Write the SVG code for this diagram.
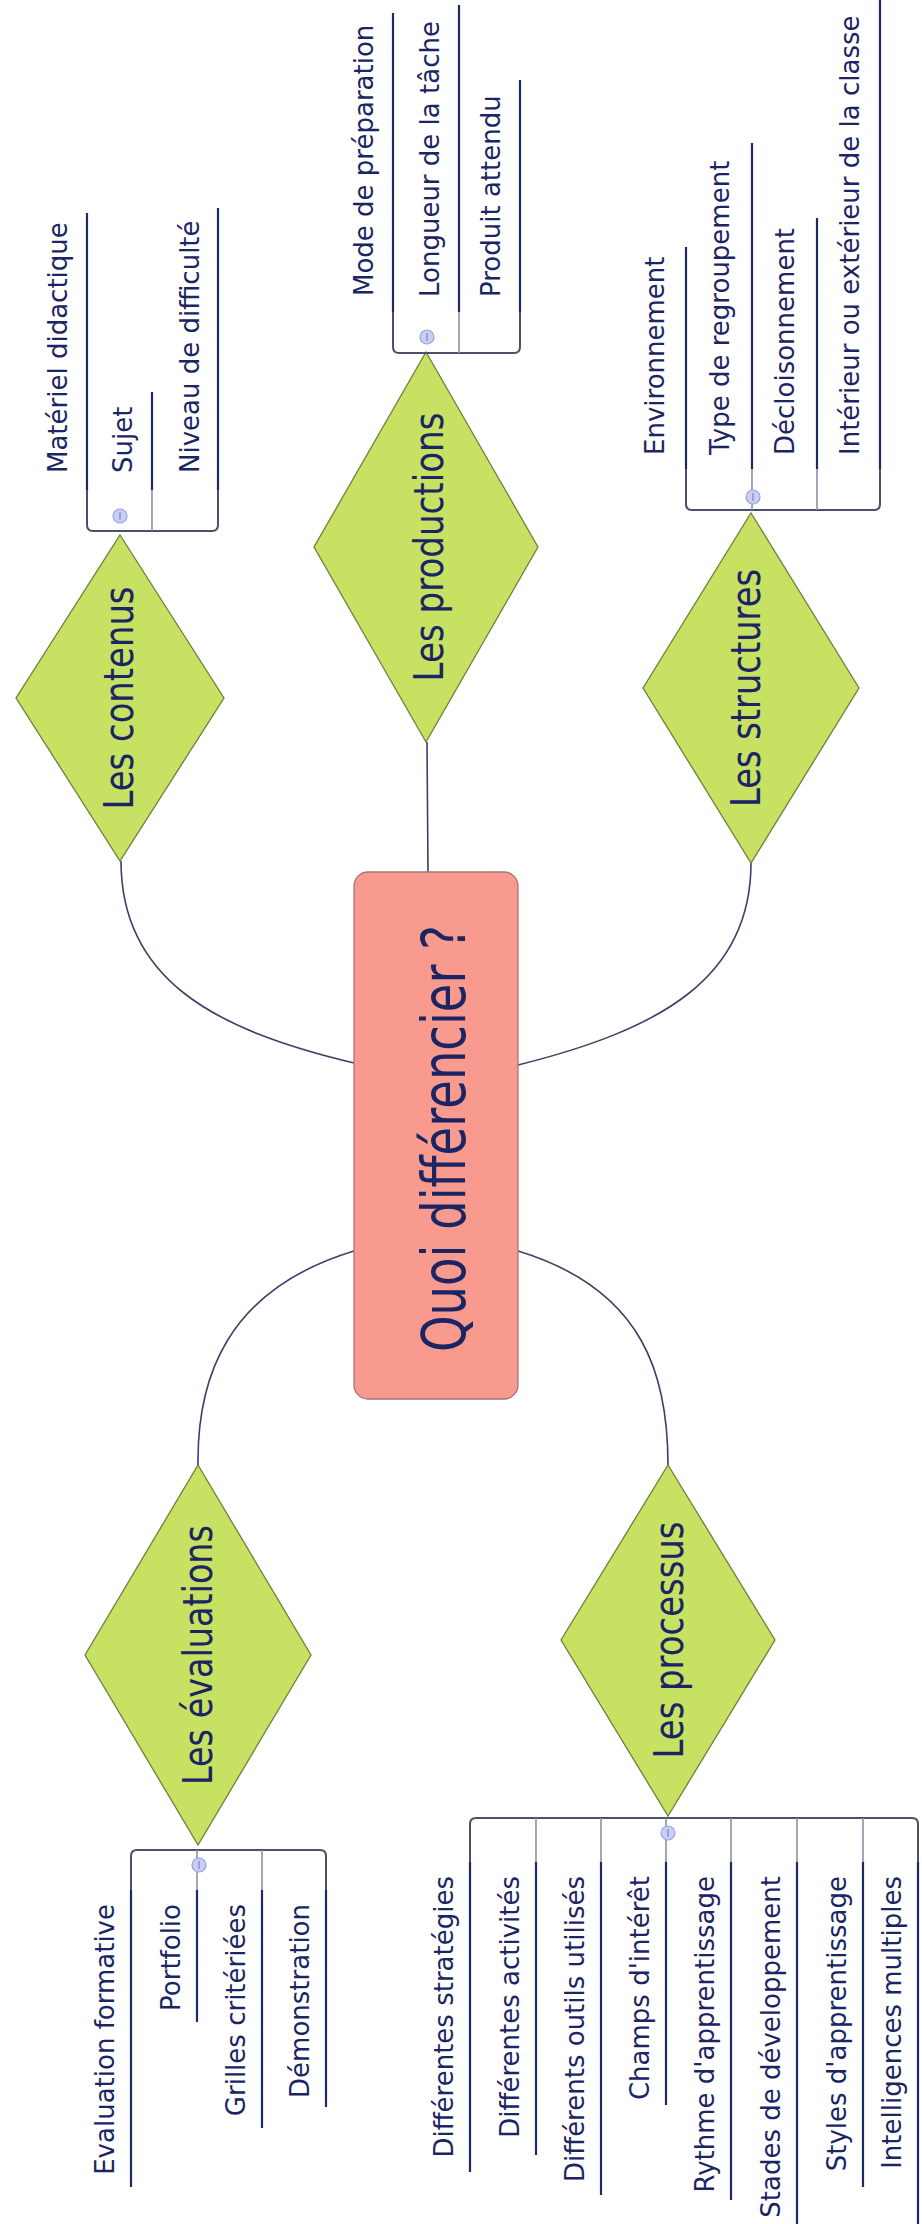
<svg xmlns="http://www.w3.org/2000/svg" width="922" height="2224" viewBox="0 0 922 2224">
<style>
.bg{fill:#ffffff}
.dia{fill:#C7E262;stroke:#6e7f3c;stroke-width:1.3}
.root{fill:#F99A8E;stroke:#a8747a;stroke-width:1.3}
.conn{fill:none;stroke:#3a4266;stroke-width:1.6}
.dk{stroke:#1f2a5e;stroke-width:2.2}
.gr{stroke:#8e90a6;stroke-width:1.6}
.br{fill:none;stroke:#4a4f6c;stroke-width:2}
.tog{fill:#c9cef4;stroke:#9aa2de;stroke-width:1.2}
.togm{stroke:#7a82c8;stroke-width:1.2}
.sub{font-family:"DejaVu Sans",Verdana,sans-serif;font-size:26px;fill:#1b2563}
.dt{font-family:"DejaVu Sans",Verdana,sans-serif;font-size:40px;fill:#1b2563}
.rt{font-family:"DejaVu Sans",Verdana,sans-serif;font-size:60px;fill:#1b2563}
</style>
<rect class="bg" x="0" y="0" width="922" height="2224"/>

<g id="connectors">
<path class="conn" d="M121,861 C121,980 215,1030 354,1063"/>
<line class="conn" x1="427" y1="742" x2="428" y2="872"/>
<path class="conn" d="M751,863 C751,980 658,1030 518,1065"/>
<path class="conn" d="M354,1251 C225,1290 197,1380 198,1465"/>
<path class="conn" d="M518,1251 C647,1290 668,1380 668,1465"/>
</g>

<g id="root">
<rect class="root" x="354" y="872" width="164" height="527" rx="14"/>
<text class="rt" transform="translate(465,1352) rotate(-90)" textLength="427" lengthAdjust="spacingAndGlyphs">Quoi différencier ?</text>
</g>

<g id="les-contenus">
<polygon class="dia" points="120,535 224,698 120,861 16,698"/>
<text class="dt" transform="translate(133,809.5) rotate(-90)" textLength="223" lengthAdjust="spacingAndGlyphs">Les contenus</text>
</g>
<g id="les-productions">
<polygon class="dia" points="426,352 538,547 426,742 314,547"/>
<text class="dt" transform="translate(443,681.5) rotate(-90)" textLength="269" lengthAdjust="spacingAndGlyphs">Les productions</text>
</g>
<g id="les-structures">
<polygon class="dia" points="751,513 859,688 751,863 643,688"/>
<text class="dt" transform="translate(760,807) rotate(-90)" textLength="238" lengthAdjust="spacingAndGlyphs">Les structures</text>
</g>
<g id="les-evaluations">
<polygon class="dia" points="198,1465 311,1655 198,1845 85,1655"/>
<text class="dt" transform="translate(212,1785) rotate(-90)" textLength="260" lengthAdjust="spacingAndGlyphs">Les évaluations</text>
</g>
<g id="les-processus">
<polygon class="dia" points="668,1465 775,1640 668,1816 561,1640"/>
<text class="dt" transform="translate(683,1758.5) rotate(-90)" textLength="237" lengthAdjust="spacingAndGlyphs">Les processus</text>
</g>

<!-- Contenus list -->
<g id="contenus-list">
<path class="br" d="M87,490 L87,525 Q87,531 93,531 L212,531 Q218,531 218,525 L218,490"/>
<line class="gr" x1="152" y1="490" x2="152" y2="531"/>
<circle class="tog" cx="120" cy="516" r="7"/>
<line class="togm" x1="120" y1="512" x2="120" y2="520"/>
</g>
<g id="materiel-didactique">
<line class="dk" x1="87" y1="213" x2="87" y2="490"/>
<text class="sub" transform="translate(67,473) rotate(-90)">Matériel didactique</text>
</g>
<g id="sujet">
<line class="dk" x1="152" y1="392" x2="152" y2="490"/>
<text class="sub" transform="translate(132,473) rotate(-90)">Sujet</text>
</g>
<g id="niveau-de-difficulte">
<line class="dk" x1="218" y1="208" x2="218" y2="490"/>
<text class="sub" transform="translate(199,473) rotate(-90)">Niveau de difficulté</text>
</g>

<!-- Productions list -->
<g id="productions-list">
<path class="br" d="M393,312 L393,347 Q393,353 399,353 L514,353 Q520,353 520,347 L520,312"/>
<line class="gr" x1="459" y1="312" x2="459" y2="353"/>
<circle class="tog" cx="427" cy="337" r="7"/>
<line class="togm" x1="427" y1="333" x2="427" y2="341"/>
</g>
<g id="mode-de-preparation">
<line class="dk" x1="393" y1="13" x2="393" y2="312"/>
<text class="sub" transform="translate(373,296) rotate(-90)">Mode de préparation</text>
</g>
<g id="longueur-de-la-tache">
<line class="dk" x1="459" y1="5" x2="459" y2="312"/>
<text class="sub" transform="translate(439,297) rotate(-90)">Longueur de la tâche</text>
</g>
<g id="produit-attendu">
<line class="dk" x1="520" y1="80" x2="520" y2="312"/>
<text class="sub" transform="translate(500,297) rotate(-90)">Produit attendu</text>
</g>

<!-- Structures list -->
<g id="structures-list">
<path class="br" d="M686,469 L686,504 Q686,510 692,510 L874,510 Q880,510 880,504 L880,469"/>
<line class="gr" x1="752" y1="469" x2="752" y2="510"/>
<line class="gr" x1="817" y1="469" x2="817" y2="510"/>
<circle class="tog" cx="753" cy="497" r="7"/>
<line class="togm" x1="753" y1="493" x2="753" y2="501"/>
</g>
<g id="environnement">
<line class="dk" x1="686" y1="247" x2="686" y2="469"/>
<text class="sub" transform="translate(664,455) rotate(-90)">Environnement</text>
</g>
<g id="type-de-regroupement">
<line class="dk" x1="752" y1="143" x2="752" y2="469"/>
<text class="sub" transform="translate(729,455) rotate(-90)">Type de regroupement</text>
</g>
<g id="decloisonnement">
<line class="dk" x1="817" y1="218" x2="817" y2="469"/>
<text class="sub" transform="translate(794,455) rotate(-90)">Décloisonnement</text>
</g>
<g id="interieur-exterieur">
<line class="dk" x1="880" y1="0" x2="880" y2="469"/>
<text class="sub" transform="translate(859,455) rotate(-90)">Intérieur ou extérieur de la classe</text>
</g>

<!-- Evaluations list -->
<g id="evaluations-list">
<path class="br" d="M131,1890 L131,1856 Q131,1850 137,1850 L320,1850 Q326,1850 326,1856 L326,1890"/>
<line class="gr" x1="197" y1="1850" x2="197" y2="1890"/>
<line class="gr" x1="262" y1="1850" x2="262" y2="1890"/>
<circle class="tog" cx="199" cy="1865" r="7"/>
<line class="togm" x1="199" y1="1861" x2="199" y2="1869"/>
</g>
<g id="evaluation-formative">
<line class="dk" x1="131" y1="1890" x2="131" y2="2187"/>
<text class="sub" text-anchor="end" transform="translate(114,1904) rotate(-90)">Evaluation formative</text>
</g>
<g id="portfolio">
<line class="dk" x1="197" y1="1890" x2="197" y2="2022"/>
<text class="sub" text-anchor="end" transform="translate(180,1904) rotate(-90)">Portfolio</text>
</g>
<g id="grilles-critériees">
<line class="dk" x1="262" y1="1890" x2="262" y2="2128"/>
<text class="sub" text-anchor="end" transform="translate(245,1904) rotate(-90)">Grilles critériées</text>
</g>
<g id="demonstration">
<line class="dk" x1="326" y1="1890" x2="326" y2="2107"/>
<text class="sub" text-anchor="end" transform="translate(309,1904) rotate(-90)">Démonstration</text>
</g>

<!-- Processus list -->
<g id="processus-list">
<path class="br" d="M470,1862 L470,1824 Q470,1818 476,1818 L912,1818 Q918,1818 918,1824 L918,1862"/>
<line class="gr" x1="536" y1="1818" x2="536" y2="1862"/>
<line class="gr" x1="601" y1="1818" x2="601" y2="1862"/>
<line class="gr" x1="666" y1="1818" x2="666" y2="1862"/>
<line class="gr" x1="731" y1="1818" x2="731" y2="1862"/>
<line class="gr" x1="797" y1="1818" x2="797" y2="1862"/>
<line class="gr" x1="863" y1="1818" x2="863" y2="1862"/>
<circle class="tog" cx="668" cy="1833" r="7"/>
<line class="togm" x1="668" y1="1829" x2="668" y2="1837"/>
</g>
<g id="differentes-strategies">
<line class="dk" x1="470" y1="1862" x2="470" y2="2172"/>
<text class="sub" text-anchor="end" transform="translate(453,1876) rotate(-90)">Différentes stratégies</text>
</g>
<g id="differentes-activites">
<line class="dk" x1="536" y1="1862" x2="536" y2="2155"/>
<text class="sub" text-anchor="end" transform="translate(519,1876) rotate(-90)">Différentes activités</text>
</g>
<g id="differents-outils">
<line class="dk" x1="601" y1="1862" x2="601" y2="2195"/>
<text class="sub" text-anchor="end" transform="translate(584,1876) rotate(-90)">Différents outils utilisés</text>
</g>
<g id="champs-interet">
<line class="dk" x1="666" y1="1862" x2="666" y2="2105"/>
<text class="sub" text-anchor="end" transform="translate(649,1876) rotate(-90)">Champs d'intérêt</text>
</g>
<g id="rythme-apprentissage">
<line class="dk" x1="731" y1="1862" x2="731" y2="2200"/>
<text class="sub" text-anchor="end" transform="translate(714,1876) rotate(-90)">Rythme d'apprentissage</text>
</g>
<g id="stades-developpement">
<line class="dk" x1="797" y1="1862" x2="797" y2="2224"/>
<text class="sub" text-anchor="end" transform="translate(780,1876) rotate(-90)">Stades de développement</text>
</g>
<g id="styles-apprentissage">
<line class="dk" x1="863" y1="1862" x2="863" y2="2187"/>
<text class="sub" text-anchor="end" transform="translate(846,1876) rotate(-90)">Styles d'apprentissage</text>
</g>
<g id="intelligences-multiples">
<line class="dk" x1="918" y1="1862" x2="918" y2="2224"/>
<text class="sub" text-anchor="end" transform="translate(901,1876) rotate(-90)">Intelligences multiples</text>
</g>
</svg>
